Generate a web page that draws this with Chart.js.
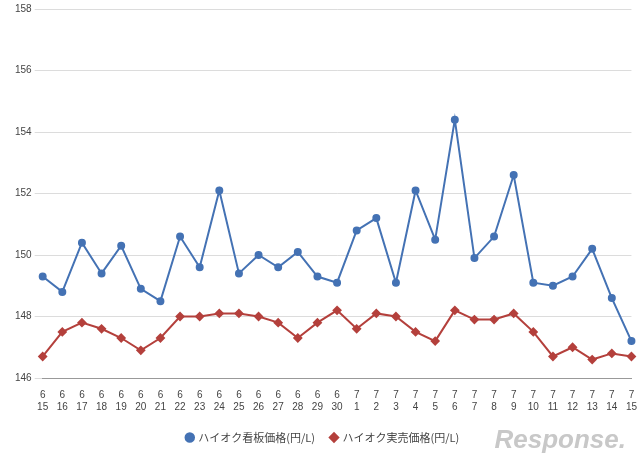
<!DOCTYPE html>
<html><head><meta charset="utf-8">
<script src="https://cdn.jsdelivr.net/npm/chart.js@4/dist/chart.umd.min.js"></script>
<style>html,body{margin:0;padding:0;background:#fff}#w{position:relative;width:640px;height:459px}
#wm{position:absolute;right:14px;bottom:4px;font:italic bold 26px 'Liberation Sans',sans-serif;color:#c8c8c8}</style>
</head><body><div id="w"><canvas id="c" width="640" height="459"></canvas><div id="wm">Response.</div></div>
<script>
const months = ["6","6","6","6","6","6","6","6","6","6","6","6","6","6","6","6","7","7","7","7","7","7","7","7","7","7","7","7","7","7","7"];
const days = ["15","16","17","18","19","20","21","22","23","24","25","26","27","28","29","30","1","2","3","4","5","6","7","8","9","10","11","12","13","14","15"];
const signPrice = [149.3,148.8,150.4,149.4,150.3,148.9,148.5,150.6,149.6,152.1,149.4,150.0,149.6,150.1,149.3,149.1,150.8,151.2,149.1,152.1,150.5,154.4,149.9,150.6,152.6,149.1,149.0,149.3,150.2,148.6,147.2];
const realPrice = [146.7,147.5,147.8,147.6,147.3,146.9,147.3,148.0,148.0,148.1,148.1,148.0,147.8,147.3,147.8,148.2,147.6,148.1,148.0,147.5,147.2,148.2,147.9,147.9,148.1,147.5,146.7,147.0,146.6,146.8,146.7];
const labels = months.map((m,i)=>[m,days[i]]);
new Chart(document.getElementById('c'),{
 type:'line',
 data:{labels,datasets:[
  {label:'ハイオク看板価格(円/L)',data:signPrice,borderColor:'#4472b4',backgroundColor:'#4472b4',borderWidth:2,pointRadius:3,pointStyle:'circle',tension:0},
  {label:'ハイオク実売価格(円/L)',data:realPrice,borderColor:'#b4403c',backgroundColor:'#b4403c',borderWidth:2,pointRadius:3.5,pointStyle:'rectRot',tension:0}
 ]},
 options:{responsive:false,animation:false,
  layout:{padding:{left:12,right:6,top:4,bottom:6}},
  plugins:{legend:{position:'bottom',labels:{usePointStyle:true,boxWidth:6,boxHeight:6,font:{size:11,family:"'Noto Sans CJK JP'"},color:'#444',padding:16}},tooltip:{enabled:false}},
  scales:{
   x:{grid:{display:false},border:{color:'#999'},ticks:{font:{size:10,family:"'Liberation Sans'"},color:'#444',maxRotation:0,autoSkip:false}},
   y:{min:146,max:158,ticks:{stepSize:2,font:{size:10,family:"'Liberation Sans'"},color:'#444'},grid:{color:'#dcdcdc'},border:{display:false}}
  }}
});
</script></body></html>
